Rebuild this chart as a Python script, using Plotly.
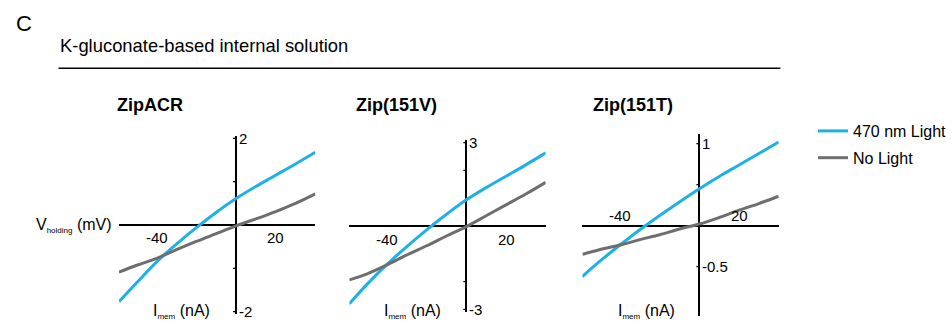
import plotly.graph_objects as go

# ---------------- data ----------------
voltage_mv = [-59, -50, -40, -30, -20, -10, 0, 10, 20, 30, 40]

zipacr_light = [-1.77, -1.33, -0.85, -0.44, -0.06, 0.29, 0.61, 0.89, 1.15, 1.41, 1.68]
zipacr_dark = [-1.09, -0.93, -0.77, -0.57, -0.38, -0.20, -0.02, 0.14, 0.31, 0.50, 0.72]

zip151v_light = [-2.80, -2.09, -1.38, -0.74, -0.14, 0.42, 0.94, 1.38, 1.79, 2.20, 2.63]
zip151v_dark = [-1.94, -1.72, -1.40, -1.04, -0.71, -0.36, -0.02, 0.37, 0.76, 1.15, 1.57]

zip151t_light = [-0.62, -0.43, -0.236, -0.05, 0.125, 0.29, 0.45, 0.60, 0.74, 0.88, 1.02]
zip151t_dark = [-0.35, -0.29, -0.236, -0.17, -0.11, -0.04, 0.02, 0.10, 0.19, 0.27, 0.36]

panel_titles = ["ZipACR", "Zip(151V)", "Zip(151T)"]
series_names = ["470 nm Light", "No Light"]
x_tick_values = [-40, 20]
y_tick_marks = [[-2, -1, 1, 2], [-3, -2, 2, 3], [-0.5, 0.5, 1]]
y_tick_labels = [[(2, "2"), (-2, "-2")], [(3, "3"), (-3, "-3")], [(1, "1"), (-0.5, "-0.5")]]

# ---------------- styling / layout geometry ----------------
W, H = 952, 325
BLUE = "#1eb0e8"
GRAY = "#6e6e70"
FONT = "Arial, Liberation Sans, sans-serif"

x_range = [-59, 40]
x_px_per_unit = 2.0
x_zero_px = [238, 470.3, 705.3]
y_ranges = [[-2.05, 2.05], [-3.1, 3.1], [-1.1, 1.12]]
y_zero_px = [225, 226, 225.7]
y_px_per_unit = [43.3, 27.8, 82.0]

light_sets = [zipacr_light, zip151v_light, zip151t_light]
dark_sets = [zipacr_dark, zip151v_dark, zip151t_dark]

fig = go.Figure()
layout_axes = {}
annotations = []
shapes = []

for i in range(3):
    sfx = "" if i == 0 else str(i + 1)
    xa, ya = "x" + sfx, "y" + sfx
    x0p = x_zero_px[i] + x_range[0] * x_px_per_unit
    x1p = x_zero_px[i] + x_range[1] * x_px_per_unit
    ytop = y_zero_px[i] - y_ranges[i][1] * y_px_per_unit[i]
    ybot = y_zero_px[i] - y_ranges[i][0] * y_px_per_unit[i]
    layout_axes["xaxis" + sfx] = dict(
        domain=[x0p / W, x1p / W], range=x_range, anchor=ya,
        showgrid=False, showline=False, showticklabels=False, ticks="",
        zeroline=True, zerolinecolor="black", zerolinewidth=1.5, fixedrange=True)
    layout_axes["yaxis" + sfx] = dict(
        domain=[1 - ybot / H, 1 - ytop / H], range=y_ranges[i], anchor=xa,
        showgrid=False, showline=False, showticklabels=False, ticks="",
        zeroline=True, zerolinecolor="black", zerolinewidth=1.5, fixedrange=True)

    fig.add_trace(go.Scatter(
        x=voltage_mv, y=light_sets[i], mode="lines", name=series_names[0],
        line=dict(color=BLUE, width=3, shape="spline", smoothing=1.0),
        xaxis=xa, yaxis=ya, showlegend=(i == 0), legendgroup="light"))
    fig.add_trace(go.Scatter(
        x=voltage_mv, y=dark_sets[i], mode="lines", name=series_names[1],
        line=dict(color=GRAY, width=3, shape="spline", smoothing=1.0),
        xaxis=xa, yaxis=ya, showlegend=(i == 0), legendgroup="dark"))

    for tv in y_tick_marks[i]:
        shapes.append(dict(type="line", xref=xa, yref=ya, xsizemode="pixel", xanchor=0,
                           x0=-3, x1=0, y0=tv, y1=tv, line=dict(color="black", width=1.2)))
    for tv, tl in y_tick_labels[i]:
        annotations.append(dict(x=0, y=tv, xref=xa, yref=ya, text=tl, showarrow=False,
                                xanchor="left", yanchor="middle", xshift=1,
                                font=dict(size=15, color="black", family=FONT)))
    for tv in x_tick_values:
        above = (i == 2)
        annotations.append(dict(x=tv, y=0, xref=xa, yref=ya, text=str(tv), showarrow=False,
                                xanchor="center", yanchor="middle",
                                yshift=(10 if above else -13),
                                font=dict(size=15, color="black", family=FONT)))
    title_x = [150.8, 400, 638][i]
    annotations.append(dict(x=title_x / W, y=1 - 105 / H, xref="paper", yref="paper",
                            text="<b>%s</b>" % panel_titles[i], showarrow=False,
                            xanchor="center", yanchor="middle",
                            font=dict(size=18, color="black", family=FONT)))
    imem_x = [152.5, 385.3, 621.3][i]
    annotations.append(dict(x=imem_x / W, y=1 - 311 / H, xref="paper", yref="paper",
                            text="I<sub><span style='font-size:8px'>mem</span></sub> (nA)",
                            showarrow=False, xanchor="left", yanchor="middle",
                            font=dict(size=16, color="black", family=FONT)))

annotations.append(dict(x=115 / W, y=1 - 225 / H, xref="paper", yref="paper",
                        text="V<sub><span style='font-size:8px'>holding</span></sub> (mV)",
                        showarrow=False, xanchor="right", yanchor="middle",
                        font=dict(size=16, color="black", family=FONT)))

annotations.append(dict(x=14 / W, y=1 - 23 / H, xref="paper", yref="paper", text="C",
                        showarrow=False, xanchor="left", yanchor="middle",
                        font=dict(size=22, color="black", family=FONT)))
annotations.append(dict(x=58 / W, y=1 - 46 / H, xref="paper", yref="paper",
                        text="K-gluconate-based internal solution",
                        showarrow=False, xanchor="left", yanchor="middle",
                        font=dict(size=18.4, color="black", family=FONT)))
shapes.append(dict(type="line", xref="paper", yref="paper",
                   x0=59 / W, x1=787 / W, y0=1 - 68.3 / H, y1=1 - 68.3 / H,
                   line=dict(color="black", width=1.5)))

fig.update_layout(
    width=W, height=H,
    margin=dict(l=0, r=0, t=0, b=0),
    paper_bgcolor="white", plot_bgcolor="white",
    showlegend=True,
    legend=dict(x=820 / W, y=1 - 114 / H, xanchor="left", yanchor="top",
                bgcolor="rgba(0,0,0,0)", borderwidth=0,
                traceorder="grouped", tracegroupgap=3,
                font=dict(size=16, color="black", family=FONT)),
    annotations=annotations, shapes=shapes,
    **layout_axes,
)

fig.write_html("out.html", config={"displayModeBar": False},
               post_script="document.body.style.margin='0';")
